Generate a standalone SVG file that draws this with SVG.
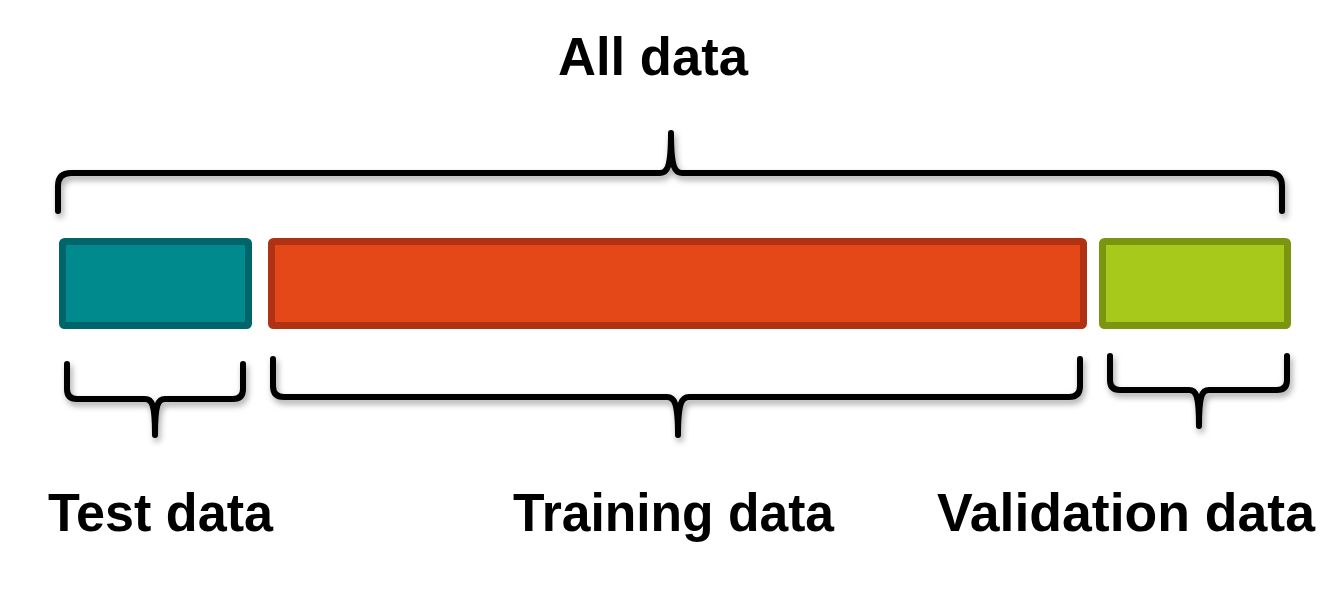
<svg xmlns="http://www.w3.org/2000/svg" width="1338" height="596" viewBox="0 0 1338 596">
<defs>
<filter id="sh" x="-10%" y="-30%" width="120%" height="160%">
<feDropShadow dx="2" dy="4" stdDeviation="3" flood-color="#000" flood-opacity="0.35"/>
</filter>
<style>
.brace{fill:none;stroke:#000;stroke-width:6;stroke-linecap:round;stroke-linejoin:round;filter:url(#sh)}
.lbl{font-family:"Liberation Sans",Arial,sans-serif;font-weight:bold;font-size:53px;fill:#000}
.box{stroke-width:7}
</style>
</defs>
<rect width="1338" height="596" fill="#fff"/>
<g id="all-data">
<text class="lbl" x="558" y="75" textLength="190" lengthAdjust="spacingAndGlyphs">All data</text>
</g>
<g id="connectors">
<path class="brace" d="M58,211 L58,186 Q58,173 71,173 L660,173 C667,173 671,168 671,133 C671,168 675,173 682,173 L1269,173 Q1282,173 1282,186 L1282,211"/>
<path class="brace" d="M67,364 L67,389 Q67,399 77,399 L145,399 C152,399 155,404 155,435 C155,404 158,399 165,399 L233,399 Q243,399 243,389 L243,364"/>
<path class="brace" d="M273,359 L273,386 Q273,397 284,397 L667,397 C674,397 678,402 678,435 C678,402 682,397 689,397 L1069,397 Q1080,397 1080,386 L1080,359"/>
<path class="brace" d="M1110,356 L1110,380 Q1110,390 1120,390 L1189,390 C1196,390 1199,395 1199,426 C1199,395 1202,390 1209,390 L1277,390 Q1287,390 1287,380 L1287,356"/>
</g>
<g id="test-box">
<rect class="box" x="62.5" y="241.5" width="186" height="84" rx="2" fill="#008A8E" stroke="#00656A"/>
</g>
<g id="training-box">
<rect class="box" x="271.5" y="241.5" width="812" height="84" rx="2" fill="#E54818" stroke="#AE3213"/>
</g>
<g id="validation-box">
<rect class="box" x="1102.5" y="241.5" width="185" height="84" rx="2" fill="#A6C91B" stroke="#7B9510"/>
</g>
<g id="test-label">
<text class="lbl" x="48" y="531" textLength="225" lengthAdjust="spacingAndGlyphs">Test data</text>
</g>
<g id="training-label">
<text class="lbl" x="513" y="531" textLength="321" lengthAdjust="spacingAndGlyphs">Training data</text>
</g>
<g id="validation-label">
<text class="lbl" x="937" y="531" textLength="378" lengthAdjust="spacingAndGlyphs">Validation data</text>
</g>
</svg>
